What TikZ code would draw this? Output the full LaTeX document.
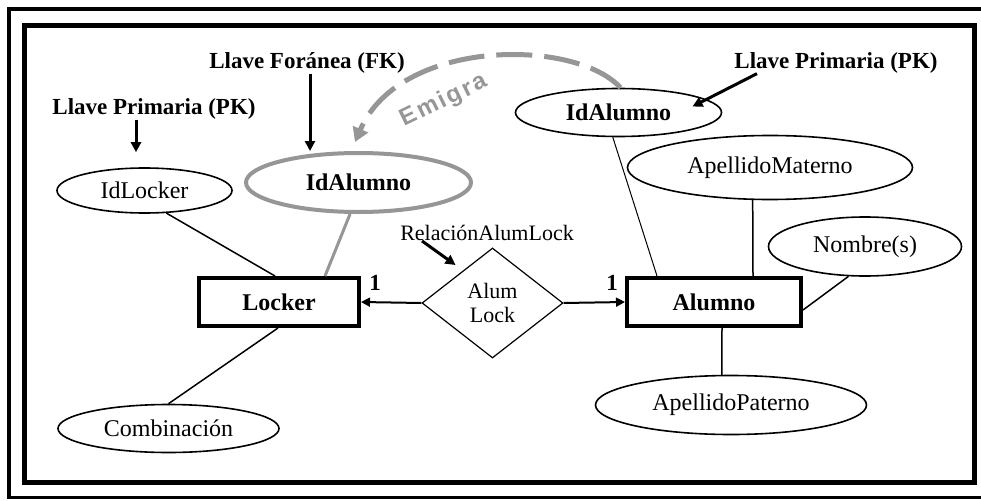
\documentclass[tikz,border=0pt]{standalone}
\usepackage{fontspec}
\setmainfont{Liberation Serif}
\newfontfamily\labelsans[LetterSpace=10]{Liberation Sans}
\usetikzlibrary{shapes.geometric,arrows.meta,calc}
\definecolor{fkgray}{RGB}{150,150,150}

\tikzset{
  attr/.style={ellipse, draw, line width=1.6pt, inner sep=0pt, font=\fontsize{24}{27}\selectfont},
  keyattr/.style={attr, font=\bfseries\fontsize{24}{27}\selectfont},
  entity/.style={rectangle, draw, line width=4pt, inner sep=0pt, fill=white, font=\bfseries\fontsize{24}{27}\selectfont},
  relation/.style={diamond, draw, line width=1.2pt, inner sep=0pt, align=center, font=\fontsize{22}{24}\selectfont},
  keylabel/.style={font=\bfseries\fontsize{23}{26}\selectfont, inner sep=0pt},
  note/.style={font=\fontsize{22}{24}\selectfont, inner sep=0pt},
  migratelabel/.style={text=fkgray, inner sep=0pt, font=\labelsans\bfseries\fontsize{24}{27}\selectfont},
  link/.style={line width=1.5pt},
  pointer/.style={line width=3pt, -{Triangle[length=10pt,width=10pt]}},
  card/.style={line width=2pt, -{Triangle[length=9pt,width=9pt]}},
  migrate/.style={draw=fkgray, line width=5pt, dash pattern=on 36pt off 12pt,
    -{Triangle[length=14pt,width=16pt,fill=fkgray]}},
}

\begin{document}
\begin{tikzpicture}[x=1pt, y=-1pt]
  \useasboundingbox (0,0) rectangle (981,500);
  \fill[white] (0,0) rectangle (981,500);

  % double frame
  \draw[line width=3.5pt] (9,9) rectangle (995,497.5);
  \draw[line width=5pt] (24,25.5) rectangle (974,482);

  % Locker side
  \node[attr, minimum width=175pt, minimum height=45pt] (idlocker) at (144.5,190.5) {IdLocker};
  \node[keyattr, draw=fkgray, line width=4pt, minimum width=225pt, minimum height=59pt] (fkid) at (358.5,182.5) {IdAlumno};
  \node[attr, minimum width=221pt, minimum height=48pt] (comb) at (168.5,428.5) {Combinación};
  \node[entity, minimum width=160pt, minimum height=48pt] (locker) at (279,302) {Locker};

  % relationship
  \node[relation, minimum width=141pt, minimum height=110pt] (rel) at (492.5,303) {Alum\\Lock};

  % Alumno side
  \node[entity, minimum width=174pt, minimum height=48pt] (alumno) at (714,302) {Alumno};
  \node[keyattr, minimum width=206pt, minimum height=48pt] (pkid) at (618.5,112.5) {IdAlumno};
  \node[attr, minimum width=285pt, minimum height=64pt] (amat) at (770,167.5) {ApellidoMaterno};
  \node[attr, minimum width=193pt, minimum height=59pt] (nombre) at (865,246.5) {Nombre(s)};
  \node[attr, minimum width=271pt, minimum height=59pt] (apat) at (731,405) {ApellidoPaterno};

  % captions
  \node[keylabel] (fklbl) at (307,63) {Llave Foránea (FK)};
  \node[keylabel] (pklbl) at (154,109) {Llave Primaria (PK)};
  \node[keylabel] (pklbl2) at (836,63) {Llave Primaria (PK)};
  \node[note] (rellbl) at (487,233) {RelaciónAlumLock};
  \node[keylabel] (c1) at (375,283) {1};
  \node[keylabel] (c2) at (612,283) {1};

  % attribute links
  \draw[link] (idlocker.-46) -- ([xshift=-4pt]locker.north);
  \draw[link, draw=fkgray, line width=3pt] (fkid.-105) -- ([xshift=46pt]locker.north);
  \draw[link] ([xshift=-1pt]locker.south) -- (comb.north);
  \draw[link, line width=1pt] (pkid.-103) -- ([xshift=-57pt]alumno.north);
  \draw[link] (amat.-118) -- ([xshift=39pt]alumno.north);
  \draw[link] ([yshift=-8pt]alumno.east) -- (nombre.-119);
  \draw[link] ([xshift=8pt]alumno.south) -- (apat.107);

  % cardinality arrows
  \draw[card] (rel.west) -- (locker.east);
  \draw[card] (rel.east) -- (alumno.west);

  % caption pointers
  \draw[pointer] ([xshift=3pt]fklbl.south) -- ([xshift=3pt]fklbl.south |- fkid.north);
  \draw[pointer, shorten >=15pt] ([xshift=-18pt]pklbl.south) -- ([xshift=-18pt]pklbl.south |- idlocker.north);
  \draw[pointer] ([xshift=-79pt]pklbl2.south) -- ($(pkid.center)+(74,-6)$);
  \draw[pointer] ([xshift=-65pt]rellbl.south) -- ($(rel.center)+(-37,-38)$);

  % key migration
  \draw[migrate] ([xshift=2pt]pkid.north) .. controls (575,38) and (400,38) .. (355,142);
  \node[migratelabel, rotate=26] (emigra) at (444,101) {Emigra};
\end{tikzpicture}
\end{document}
